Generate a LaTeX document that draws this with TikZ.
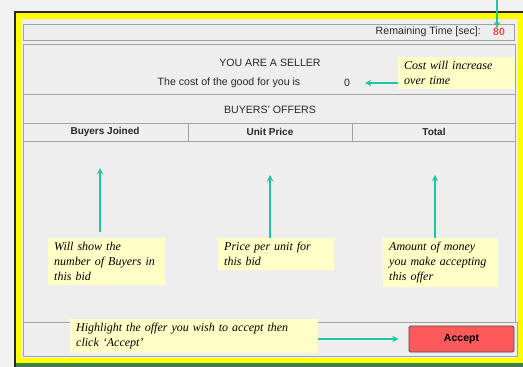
\documentclass[tikz,border=0pt]{standalone}
\usepackage{fontspec}
\setmainfont{Liberation Sans}
\newfontfamily\notefont{Liberation Serif}
\usetikzlibrary{positioning}
\definecolor{pointerteal}{HTML}{22C49E}
\definecolor{notebg}{HTML}{FFFFC6}
\definecolor{panelbg}{HTML}{EEEEEE}
\definecolor{panelline}{HTML}{A2A2A2}
\definecolor{frameyellow}{HTML}{FFFF00}
\definecolor{btnred}{HTML}{FF5A5A}
\definecolor{timered}{HTML}{F24A4A}
\definecolor{taskgreen}{HTML}{3F7F4C}
\tikzset{
  panel/.style={draw=panelline, line width=0.7pt},
  uitext/.style={font=\fontsize{10.6}{12}\selectfont, text=black!85, inner sep=0pt},
  headtext/.style={uitext, font=\fontsize{10}{12}\selectfont\bfseries},
  note/.style={fill=notebg, font=\notefont\itshape\fontsize{12}{15}\selectfont,
    align=left, anchor=north west, inner xsep=6pt, inner ysep=4pt},
  pointer/.style={->, draw=pointerteal, line width=1.8pt},
  acceptbtn/.style={fill=btnred, draw=black!70, line width=0.9pt, rounded corners=1.5pt,
    minimum width=105pt, minimum height=26pt, font=\fontsize{10.5}{12}\selectfont\bfseries}
}
\begin{document}
\begin{tikzpicture}[x=1pt, y=-1pt, >=stealth]
  \useasboundingbox (0,0) rectangle (523,367);
  \fill[black!5] (0,0) rectangle (523,367);
  % window frame
  \fill[frameyellow] (15,12) rectangle (523,363);
  \fill[panelbg] (21,19) rectangle (518,358);
  \fill[taskgreen] (15,363) rectangle (523,367);
  \draw[black!85, line width=2pt] (15,367) -- (15,12) -- (523,12);
  % panels
  \draw[panel] (23,24) rectangle (514,40);
  \draw[panel] (23,44) rectangle (515,94);
  \draw[panel] (23,94) rectangle (515,123);
  \draw[panel] (23,123) rectangle (515,141);
  \draw[panel] (188,123) -- (188,141);
  \draw[panel] (352,123) -- (352,141);
  \draw[panel] (23,141) rectangle (515,322);
  \draw[panel] (23,322) rectangle (517,356);
  % texts
  \node[uitext, anchor=east] (timelabel) at (481,32) {Remaining Time [sec]:};
  \node[uitext, text=timered, font=\fontsize{10.5}{12}\selectfont\bfseries] (timeval) at (499,32) {80};
  \node[uitext] (sellertitle) at (270,63) {YOU ARE A SELLER};
  \node[uitext] (costlabel) at (229,83) {The cost of the good for you is};
  \node[uitext] (costval) at (347,83) {0};
  \node[uitext] (offerstitle) at (270,110) {BUYERS' OFFERS};
  \node[headtext] (colbuyers) at (105,132) {Buyers Joined};
  \node[headtext] (colprice) at (270,132) {Unit Price};
  \node[headtext] (coltotal) at (434,132) {Total};
  % notes
  \node[note, text width=105pt] (costnote) at (398,57) {Cost will increase\\over time};
  \node[note, text width=105pt] (buyersnote) at (48,238) {Will show the\\number of Buyers in\\this bid};
  \node[note, text width=104pt] (pricenote) at (218,238) {Price per unit for\\this bid};
  \node[note, text width=103pt] (totalnote) at (383,238) {Amount of money\\you make accepting\\this offer};
  \node[note, text width=236pt] (acceptnote) at (70,319) {Highlight the offer you wish to accept then\\click ‘Accept’};
  \node[acceptbtn] (acceptbtn) at (461.5,339) {Accept};
  % pointers
  \coordinate (timetop) at (497,0);
  \coordinate (costtip) at (365,83);
  \coordinate (buyerstip) at (100,168);
  \coordinate (pricetip) at (270,175);
  \coordinate (totaltip) at (435,175);
  \draw[pointer] (timetop) -- (timeval.north -| timetop);
  \draw[pointer] (costnote.west |- costtip) -- (costtip);
  \draw[pointer] (buyersnote.north -| buyerstip) ++(0,-6) -- (buyerstip);
  \draw[pointer] (pricenote.north -| pricetip) -- (pricetip);
  \draw[pointer] (totalnote.north -| totaltip) -- (totaltip);
  \draw[pointer] (acceptnote.east |- acceptbtn) -- ([xshift=-10pt]acceptbtn.west);
\end{tikzpicture}
\end{document}
